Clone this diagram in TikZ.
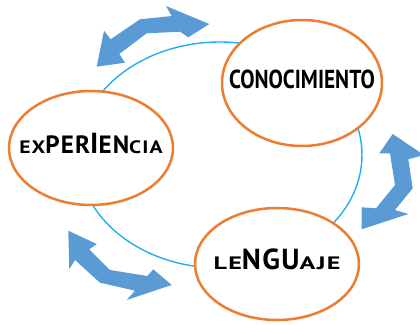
\documentclass[tikz,border=0pt]{standalone}
\usepackage{fontspec}
\usepackage{graphicx}
\newfontfamily\bubblefont[FakeStretch=0.82]{PT Sans Bold}
\newfontfamily\widefont[LetterSpace=5]{PT Sans Bold}
\usepackage{tikz}
\usetikzlibrary{shapes.geometric,positioning}
\definecolor{ringblue}{HTML}{1FB0EE}
\definecolor{bubbleorange}{HTML}{ED7D31}
\definecolor{arrowblue}{HTML}{5B9BD5}
\newcommand\loletter[2][1.45]{\scalebox{#1}[1]{\fontsize{18}{18}\selectfont #2}}
\newcommand\hiletter[1]{{\fontsize{29}{29}\selectfont #1}}

\begin{document}
\begin{tikzpicture}[x=1pt,y=-1pt,on grid,
   bubble/.style={ellipse,draw=bubbleorange,line width=2.5pt,fill=white,inner sep=0pt,
      text height=13pt,text depth=3pt,font=\bubblefont\fontsize{26}{26}\selectfont},
   wide/.style={font=\widefont\fontsize{25}{25}\selectfont},
   twoway/.style={fill=arrowblue}]
   \useasboundingbox (0,0) rectangle (420,324);
   \draw[ringblue, line width=1.4pt] (220,155) ellipse [x radius=142, y radius=113];
   \node[bubble, minimum width=160pt, minimum height=126pt] (conocimiento) at (302,83) {\makebox[0pt]{CONOCIMIENTO}};
   \node[bubble, wide, minimum width=164pt, minimum height=114pt] (experiencia) [below left=65pt and 211pt of conocimiento] {\makebox[0pt]{\loletter[1.2]{EX}PER\hiletter{I}EN\loletter[1.2]{CIA}}};
   \node[bubble, wide, minimum width=164pt, minimum height=112pt] (lenguaje) [below left=181pt and 25pt of conocimiento] {\makebox[0pt]{\loletter{LE}\hiletter{NGU}\loletter{AJE}}};
   \fill[twoway] (209.3,24) -- (188.3,37.3) -- (180,31.7) -- (146.7,33.3) -- (119.3,54) -- (125,62.7)
      -- (96.7,66.7) -- (104,30.7) -- (110.7,39.3) -- (140,19.3) -- (171.7,16) -- (166,6) -- cycle;
   \fill[twoway] (392.7,134) -- (424,155) -- (408.3,159.3) -- (412.7,188.3) -- (395,210) -- (408.3,214)
      -- (361.7,229.3) -- (361.7,207.3) -- (376,208.3) -- (395,185) -- (390,153.3) -- (379.3,153.3) -- cycle;
   \fill[twoway] (68.3,230.7) -- (96.7,244) -- (89.3,249.3) -- (110,270) -- (147.3,276) -- (153.3,269.3)
      -- (171.7,285) -- (126.7,300) -- (135,290.7) -- (100,282.7) -- (75,260) -- (69.3,269.3) -- cycle;
\end{tikzpicture}
\end{document}
